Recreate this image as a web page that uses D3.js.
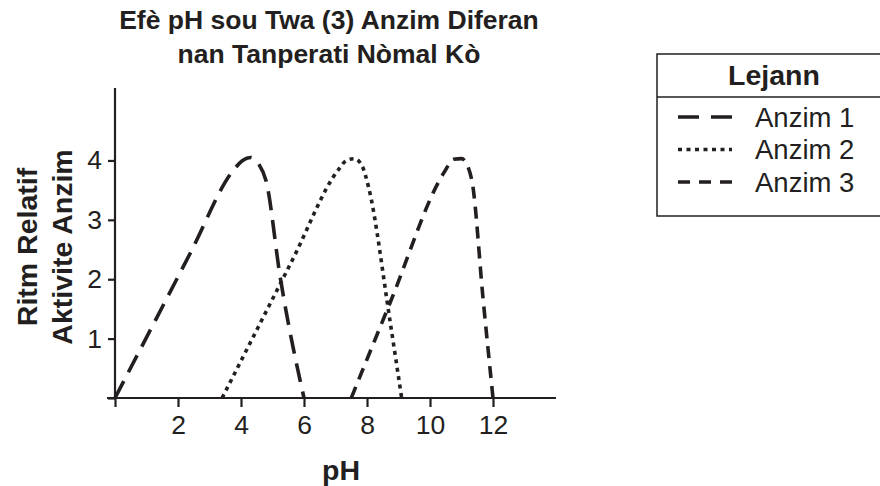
<!DOCTYPE html>
<html>
<head>
<meta charset="utf-8">
<script src="https://cdn.jsdelivr.net/npm/d3@7"></script>
<style>
  body { margin: 0; background: #fff; }
  text { font-family: "Liberation Sans", Arial, Helvetica, sans-serif; fill: #231f20; }
</style>
</head>
<body>
<div id="chart"></div>
<script>
// data
var seriesNames = ["Anzim 1", "Anzim 2", "Anzim 3"];
var ph1 = [0, 2.4, 3.75, 4.05, 4.3, 4.55, 4.8, 5.24, 6.0];
var rate1 = [0, 2.45, 3.83, 4.0, 4.05, 3.95, 3.65, 2.05, 0];
var ph2 = [3.4, 5.6, 7.1, 7.35, 7.6, 7.85, 8.05, 8.73, 9.1];
var rate2 = [0, 2.29, 3.85, 4.0, 4.03, 3.9, 3.55, 1.3, 0];
var ph3 = [7.5, 8.73, 10.45, 10.75, 11.0, 11.2, 11.35, 11.68, 12.0];
var rate3 = [0, 1.6, 3.8, 4.02, 4.03, 3.9, 3.6, 1.7, 0];
var xTicks = [0, 2, 4, 6, 8, 10, 12];
var yTicks = [0, 1, 2, 3, 4];

var ink = "#231f20";
var dashes = ["19,10", "4,4.5", "12,8"];

var svg = d3.select("#chart").append("svg")
    .attr("width", 880)
    .attr("height", 486);

var x = d3.scaleLinear().domain([0, 14]).range([115, 556]);
var y = d3.scaleLinear().domain([0, 5.22]).range([398, 88]);

// title
svg.append("text")
  .attr("x", 329).attr("y", 29)
  .attr("text-anchor", "middle")
  .style("font-size", "26.5px").style("font-weight", "bold")
  .text("Efè pH sou Twa (3) Anzim Diferan");
svg.append("text")
  .attr("x", 329).attr("y", 63)
  .attr("text-anchor", "middle")
  .style("font-size", "26.5px").style("font-weight", "bold")
  .text("nan Tanperati Nòmal Kò");

// axes
var xAxis = svg.append("g")
  .attr("transform", "translate(0," + y(0) + ")")
  .call(d3.axisBottom(x).tickValues(xTicks).tickSize(9).tickPadding(8)
    .tickFormat(function(d) { return d === 0 ? "" : d; }));
xAxis.select(".domain").attr("d", "M107,0H556");

var yAxis = svg.append("g")
  .attr("transform", "translate(" + x(0) + ",0)")
  .call(d3.axisLeft(y).tickValues(yTicks).tickSize(7).tickPadding(6)
    .tickFormat(function(d) { return d === 0 ? "" : d; }));
yAxis.select(".domain").attr("d", "M0," + y(0) + "V" + y(5.22));

svg.selectAll(".domain, .tick line")
  .attr("stroke", ink).attr("stroke-width", 2.2);
svg.selectAll(".tick text")
  .attr("fill", ink)
  .style("font-size", "26.5px")
  .style("font-family", "Liberation Sans, Arial, sans-serif");

// axis titles
svg.append("text")
  .attr("x", 341).attr("y", 480)
  .attr("text-anchor", "middle")
  .style("font-size", "28.5px").style("font-weight", "bold")
  .text("pH");
svg.append("text")
  .attr("transform", "translate(37,247)rotate(-90)")
  .attr("text-anchor", "middle")
  .style("font-size", "28.5px").style("font-weight", "bold")
  .text("Ritm Relatif");
svg.append("text")
  .attr("transform", "translate(72,247)rotate(-90)")
  .attr("text-anchor", "middle")
  .style("font-size", "28.5px").style("font-weight", "bold")
  .text("Aktivite Anzim");

// curves
var series = [
  ph1.map(function(p, i) { return [p, rate1[i]]; }),
  ph2.map(function(p, i) { return [p, rate2[i]]; }),
  ph3.map(function(p, i) { return [p, rate3[i]]; })
];

var line = d3.line()
  .x(function(d) { return x(d[0]); })
  .y(function(d) { return y(d[1]); })
  .curve(d3.curveMonotoneX);

svg.selectAll(".curve")
  .data(series)
  .enter().append("path")
    .attr("class", "curve")
    .attr("d", line)
    .attr("fill", "none")
    .attr("stroke", ink)
    .attr("stroke-width", 3.6)
    .attr("stroke-dasharray", function(d, i) { return dashes[i]; });

// legend
var lg = svg.append("g");
lg.append("rect")
  .attr("x", 657).attr("y", 54)
  .attr("width", 240).attr("height", 162)
  .attr("fill", "none").attr("stroke", ink).attr("stroke-width", 1.5);
lg.append("line")
  .attr("x1", 657).attr("x2", 880).attr("y1", 97).attr("y2", 97)
  .attr("stroke", ink).attr("stroke-width", 1.5);
lg.append("text")
  .attr("x", 774).attr("y", 85)
  .attr("text-anchor", "middle")
  .style("font-size", "28.5px").style("font-weight", "bold")
  .text("Lejann");

var rows = lg.selectAll(".row")
  .data(seriesNames)
  .enter().append("g")
    .attr("transform", function(d, i) { return "translate(0," + (117 + i * 32.5) + ")"; });
rows.append("line")
  .attr("x1", 678).attr("x2", 732).attr("y1", 0).attr("y2", 0)
  .attr("stroke", ink).attr("stroke-width", 3.6)
  .attr("stroke-dasharray", function(d, i) { return i === 0 ? "21,12" : i === 1 ? "4,4.5" : "12,9"; });
rows.append("text")
  .attr("x", 755).attr("y", 9.5)
  .style("font-size", "27.5px")
  .text(function(d) { return d; });
</script>
</body>
</html>
